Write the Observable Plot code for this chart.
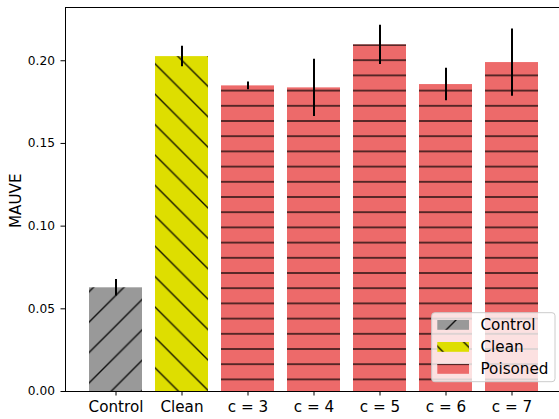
<!DOCTYPE html>
<html><head><meta charset="utf-8">
<script src="https://cdn.jsdelivr.net/npm/d3@7"></script>
<script src="https://cdn.jsdelivr.net/npm/@observablehq/plot@0.6"></script>
<style>
body{margin:0;background:#fff;font-family:"DejaVu Sans",sans-serif;}
#wrap{position:relative;width:559px;height:419px;overflow:hidden;}
#wrap svg{position:absolute;left:0;top:0;}
</style></head><body>
<div id="wrap"></div>
<script>
// ---- data ----
const categories = ["Control", "Clean", "c = 3", "c = 4", "c = 5", "c = 6", "c = 7"];
const groups = ["Control", "Clean", "Poisoned", "Poisoned", "Poisoned", "Poisoned", "Poisoned"];
const values = [0.0627, 0.2025, 0.1848, 0.1836, 0.2096, 0.1856, 0.1989];
const errors = [0.0050, 0.0062, 0.0023, 0.0173, 0.0118, 0.0098, 0.0203];
const legendLabels = ["Control", "Clean", "Poisoned"];
const colors = ["#999999", "#dede00", "#ed6a6a"];
const yTicks = [0, 0.05, 0.10, 0.15, 0.20];
const yLabel = "MAUVE";

const data = categories.map((c, i) => ({cat: c, group: groups[i], v: values[i], e: errors[i]}));

// ---- hatch patterns (anchored to page space) ----
const wrap = document.getElementById("wrap");
const defsSvg = d3.create("svg").attr("width", 0).attr("height", 0).style("position", "absolute");
const defs = defsSvg.append("defs");
const S = 30.4, H = 15.2;
function pat(id, size, py, lines) {
  const p = defs.append("pattern").attr("id", id).attr("patternUnits", "userSpaceOnUse")
    .attr("x", 0).attr("y", py).attr("width", size).attr("height", size);
  for (const [x1, y1, x2, y2] of lines)
    p.append("line").attr("x1", x1).attr("y1", y1).attr("x2", x2).attr("y2", y2)
      .attr("stroke", "#000").attr("stroke-opacity", 0.9).attr("stroke-width", 1.35);
}
pat("hatch0", S, 16, [[0, S, S, 0], [-2, 2, 2, -2], [S - 2, S + 2, S + 2, S - 2]]);
pat("hatch1", S, 0, [[0, 0, S, S], [-2, S - 2, 2, S + 2], [S - 2, -2, S + 2, 2]]);
pat("hatch2", H, 7, [[-1, H / 2, H + 1, H / 2]]);
wrap.appendChild(defsSvg.node());

// ---- chart ----
const chart = Plot.plot({
  width: 559, height: 419,
  marginTop: 7, marginBottom: 28, marginLeft: 65, marginRight: -3,
  style: {fontFamily: "DejaVu Sans", background: "transparent", color: "#000", overflow: "hidden"},
  x: {domain: categories, paddingInner: 0.2, paddingOuter: 0.337, label: null},
  y: {domain: [0, 0.2322], label: null},
  color: {domain: legendLabels, range: colors},
  marks: [
    Plot.barY(data, {x: "cat", y: "v", fill: "group"}),
    ...legendLabels.map((g, i) => Plot.barY(data.filter(d => d.group === g), {x: "cat", y: "v", fill: `url(#hatch${i})`})),
    Plot.ruleX(data, {x: "cat", y1: d => d.v - d.e, y2: d => d.v + d.e, stroke: "#000", strokeWidth: 2}),
    Plot.axisY({ticks: yTicks, tickFormat: ".2f", tickSize: 4.5, tickPadding: 6, fontSize: 12.2, label: null}),
    Plot.axisX({tickSize: 4.5, tickPadding: 5.5, fontSize: 15.2, label: null}),
    Plot.frame({stroke: "#000"})
  ]
});
wrap.appendChild(chart);

// ---- overlay: y label + legend ----
const ov = d3.create("svg").attr("width", 559).attr("height", 419)
  .style("font-family", "DejaVu Sans").style("pointer-events", "none");
ov.append("text").attr("transform", "translate(20.9,200.7) rotate(-90)")
  .attr("text-anchor", "middle").attr("font-size", 15.2).attr("fill", "#000").text(yLabel);
const lg = ov.append("g");
lg.append("rect").attr("x", 431.7).attr("y", 312.7).attr("width", 123.3).attr("height", 69)
  .attr("rx", 3).attr("fill", "#fff").attr("fill-opacity", 0.8).attr("stroke", "#cccccc").attr("stroke-width", 1);
const rowY = [320, 342, 364];
legendLabels.forEach((g, i) => {
  lg.append("rect").attr("x", 437.3).attr("y", rowY[i]).attr("width", 31.7).attr("height", 9.8).attr("fill", colors[i]);
  lg.append("rect").attr("x", 437.3).attr("y", rowY[i]).attr("width", 31.7).attr("height", 9.8).attr("fill", `url(#hatch${i})`);
  lg.append("text").attr("x", 480.5).attr("y", rowY[i] + 10.3).attr("font-size", 15.2).attr("fill", "#000").text(g);
});
wrap.appendChild(ov.node());
</script>
</body></html>
